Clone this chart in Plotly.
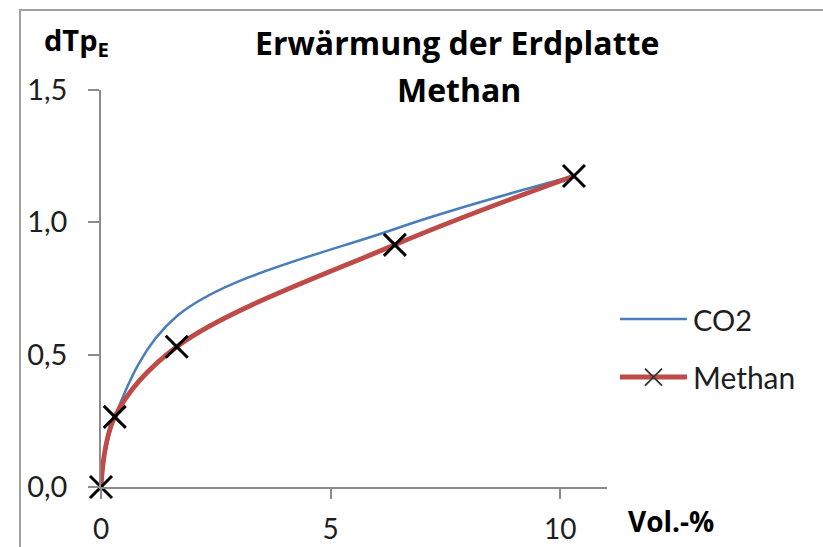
import plotly.graph_objects as go

# Volumen-Anteil (Vol.-%) und Erwärmung dTp_E
vol_pct = [0, 0.3, 1.65, 6.4, 10.3]
methan = [0, 0.265, 0.53, 0.915, 1.175]
co2 = [0, 0.265, 0.645, 0.975, 1.175]

y_ticks = [0.0, 0.5, 1.0, 1.5]
y_tick_text = ["0,0", "0,5", "1,0", "1,5"]
x_ticks = [0, 5, 10]

W, H = 823, 547
FONT = "Lato"
BOLD_FONT = "Open Sans"
BLUE = "#4A7EBB"
RED = "#BE4B48"
AXIS = "#8C8C8C"
TXT = "#1E1E1E"


def px_x(p):
    return p / W


def px_y(p):
    return 1 - p / H


fig = go.Figure()

fig.add_trace(go.Scatter(
    x=vol_pct, y=co2, name="CO2", mode="lines",
    line=dict(color=BLUE, width=2.5, shape="spline", smoothing=1.0),
    showlegend=False,
))
fig.add_trace(go.Scatter(
    x=vol_pct, y=methan, name="Methan", mode="lines+markers",
    line=dict(color=RED, width=4.8, shape="spline", smoothing=1.0),
    marker=dict(symbol="x-thin", size=22, color="black",
                line=dict(color="black", width=3)),
    cliponaxis=False, showlegend=False,
))

# Legend entries drawn on a small helper axis to the right of the plot
leg_x = [0, 1]
fig.add_trace(go.Scatter(
    x=leg_x, y=[0.872, 0.872], mode="lines", xaxis="x2", yaxis="y2",
    line=dict(color=BLUE, width=2.5), showlegend=False, cliponaxis=False,
    hoverinfo="skip",
))
fig.add_trace(go.Scatter(
    x=leg_x, y=[0.128, 0.128], mode="lines", xaxis="x2", yaxis="y2",
    line=dict(color=RED, width=4.8), showlegend=False, cliponaxis=False,
    hoverinfo="skip",
))
fig.add_trace(go.Scatter(
    x=[0.5], y=[0.128], mode="markers", xaxis="x2", yaxis="y2",
    marker=dict(symbol="x-thin", size=17, color="#333333",
                line=dict(color="#333333", width=1.8)),
    showlegend=False, cliponaxis=False, hoverinfo="skip",
))

fig.update_layout(
    width=W, height=H,
    margin=dict(l=0, r=0, t=0, b=0, autoexpand=False),
    paper_bgcolor="white", plot_bgcolor="white",
    font=dict(family=FONT, color=TXT),
    xaxis=dict(
        domain=[px_x(101), px_x(607)],
        range=[0, 11.02],
        tickvals=x_ticks, ticktext=[str(v) for v in x_ticks],
        showgrid=False, zeroline=False,
        showline=True, linecolor=AXIS, linewidth=1.5,
        ticks="outside", ticklen=10, tickcolor=AXIS, tickwidth=1.5,
        tickfont=dict(size=28, color=TXT, family=FONT),
        ticklabelstandoff=7,
        automargin=False,
        anchor="y",
    ),
    yaxis=dict(
        domain=[px_y(487), px_y(90)],
        range=[0, 1.5],
        tickvals=y_ticks, ticktext=y_tick_text,
        showgrid=False, zeroline=False,
        showline=True, linecolor=AXIS, linewidth=1.5,
        ticks="outside", ticklen=11, tickcolor=AXIS, tickwidth=1.5,
        tickfont=dict(size=29, color=TXT, family=FONT),
        ticklabelstandoff=15,
        automargin=False,
        anchor="x",
    ),
    xaxis2=dict(domain=[px_x(620), px_x(687)], range=[0, 1], visible=False,
                anchor="y2", fixedrange=True, automargin=False),
    yaxis2=dict(domain=[px_y(387), px_y(309)], range=[0, 1], visible=False,
                anchor="x2", fixedrange=True, automargin=False),
    shapes=[
        dict(type="path", xref="paper", yref="paper",
             path=f"M {px_x(20)},{px_y(560)} L {px_x(20)},{px_y(10)} L {px_x(830)},{px_y(10)}",
             line=dict(color="#A0A0A0", width=2)),
    ],
    annotations=[
        dict(text="<b>Erwärmung der Erdplatte</b>",
             xref="paper", yref="paper", x=px_x(457), y=px_y(43),
             xanchor="center", yanchor="middle", showarrow=False,
             font=dict(size=32, family=BOLD_FONT, color="black")),
        dict(text="<b>Methan</b>",
             xref="paper", yref="paper", x=px_x(459), y=px_y(89),
             xanchor="center", yanchor="middle", showarrow=False,
             font=dict(size=32, family=BOLD_FONT, color="black")),
        dict(text="<b>dTp<sub>E</sub></b>",
             xref="paper", yref="paper", x=px_x(42), y=px_y(18),
             xanchor="left", yanchor="top", showarrow=False,
             font=dict(size=29, family=BOLD_FONT, color="black")),
        dict(text="<b>Vol.-%</b>",
             xref="paper", yref="paper", x=px_x(626), y=px_y(521),
             xanchor="left", yanchor="middle", showarrow=False,
             font=dict(size=28, family=BOLD_FONT, color="black")),
        dict(text="CO2", xref="paper", yref="paper",
             x=px_x(691), y=px_y(319), xanchor="left", yanchor="middle",
             showarrow=False, font=dict(size=29, family=FONT, color=TXT)),
        dict(text="Methan", xref="paper", yref="paper",
             x=px_x(691), y=px_y(377), xanchor="left", yanchor="middle",
             showarrow=False, font=dict(size=30, family=FONT, color=TXT)),
    ],
)

fig.write_html("out.html")
